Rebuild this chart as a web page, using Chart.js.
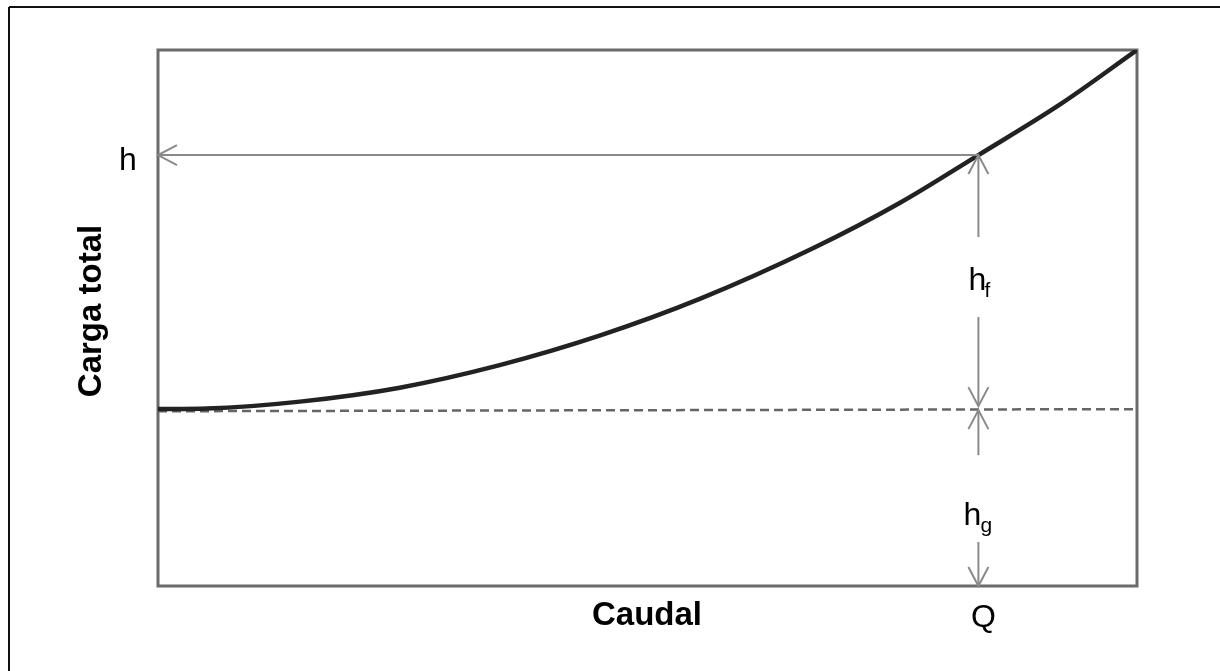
<!DOCTYPE html>
<html>
<head>
<meta charset="utf-8">
<title>Carga total vs Caudal</title>
<script src="https://cdn.jsdelivr.net/npm/chart.js@4.4.1/dist/chart.umd.min.js"></script>
<style>
    html, body { margin: 0; padding: 0; background: #fff; }
    #wrap { width: 1220px; height: 671px; }
</style>
</head>
<body>
<div id="wrap"><canvas id="pumpChart" width="1220" height="671"></canvas></div>
<script>
// System curve: flow (Q) against total head, both as % of the plotted range
const flowQ = [0, 5, 14.5, 24.7, 34.9, 45.1, 55.4, 66.9, 75.8, 83.8, 92.1, 100];
const totalHead = [33.0, 33.1, 34.4, 37.0, 41.2, 46.7, 53.6, 63.0, 71.5, 80.4, 89.8, 100];

// Static head line (h_g)
const staticQ = [0, 100];
const staticHead = [32.6, 33.0];

// Operating point and the gaps left in the vertical arrows for the labels
const operatingQ = 83.8;
const operatingHead = 80.4;
const hfLabelGap = [65.1, 50.2];
const hgLabelGap = [24.4, 8.2];

const axisTitleX = 'Caudal';
const axisTitleY = 'Carga total';

const FONT = '"Liberation Sans", Arial, Helvetica, sans-serif';
const ARROW = '#8a8a8a';

// Open "V" arrowhead at (x, y) pointing in direction (dx, dy)
function arrowHead(ctx, x, y, dx, dy) {
    const len = Math.hypot(dx, dy);
    const ux = dx / len, uy = dy / len;
    const back = 19, side = 10;
    ctx.beginPath();
    ctx.moveTo(x - ux * back - uy * side, y - uy * back + ux * side);
    ctx.lineTo(x, y);
    ctx.lineTo(x - ux * back + uy * side, y - uy * back - ux * side);
    ctx.stroke();
}

function line(ctx, x1, y1, x2, y2) {
    ctx.beginPath();
    ctx.moveTo(x1, y1);
    ctx.lineTo(x2, y2);
    ctx.stroke();
}

// Frame, outer box and titles drawn behind the data
const framePlugin = {
    id: 'frame',
    beforeDatasetsDraw(chart) {
        const { ctx, chartArea: a } = chart;
        ctx.save();
        ctx.strokeStyle = '#111';
        ctx.lineWidth = 2;
        line(ctx, 9, 7, chart.width, 7);
        line(ctx, 9, 7, 9, chart.height);

        ctx.strokeStyle = '#6b6b6b';
        ctx.lineWidth = 3;
        ctx.strokeRect(a.left, a.top, a.right - a.left, a.bottom - a.top);

        ctx.fillStyle = '#000';
        ctx.font = 'bold 33px ' + FONT;
        ctx.textAlign = 'center';
        ctx.textBaseline = 'alphabetic';
        ctx.fillText(axisTitleX, 647, 625);
        ctx.save();
        ctx.translate(101, 311);
        ctx.rotate(-Math.PI / 2);
        ctx.fillText(axisTitleY, 0, 0);
        ctx.restore();
        ctx.restore();
    }
};

// Dimension arrows and their labels drawn over the data
const arrowPlugin = {
    id: 'arrows',
    afterDatasetsDraw(chart) {
        const { ctx, scales: { x, y } } = chart;
        const px = x.getPixelForValue(operatingQ);
        const py = y.getPixelForValue(operatingHead);
        const yStatic = y.getPixelForValue(33.0);
        const yBase = y.getPixelForValue(0);
        const x0 = x.getPixelForValue(0);

        ctx.save();
        ctx.strokeStyle = ARROW;
        ctx.lineWidth = 2;

        // h: from the curve to the head axis
        line(ctx, px, py, x0, py);
        arrowHead(ctx, x0, py, -1, 0);

        // h_f: friction head between curve and static line
        const g1 = y.getPixelForValue(hfLabelGap[0]);
        const g2 = y.getPixelForValue(hfLabelGap[1]);
        line(ctx, px, py, px, g1);
        arrowHead(ctx, px, py, 0, -1);
        line(ctx, px, g2, px, yStatic - 3);
        arrowHead(ctx, px, yStatic - 3, 0, 1);

        // h_g: static head between static line and base
        const g3 = y.getPixelForValue(hgLabelGap[0]);
        const g4 = y.getPixelForValue(hgLabelGap[1]);
        line(ctx, px, yStatic + 1, px, g3);
        arrowHead(ctx, px, yStatic + 1, 0, -1);
        line(ctx, px, g4, px, yBase);
        arrowHead(ctx, px, yBase, 0, 1);

        // labels
        ctx.fillStyle = '#000';
        ctx.textBaseline = 'alphabetic';
        ctx.textAlign = 'left';
        ctx.font = '32px ' + FONT;
        ctx.fillText('h', 119, 170);
        ctx.fillText('h', px - 10, 290);
        ctx.fillText('h', px - 15, 525);
        ctx.font = '21px ' + FONT;
        ctx.fillText('f', px + 6, 297);
        ctx.fillText('g', px + 2, 532);
        ctx.font = '32px ' + FONT;
        ctx.textAlign = 'center';
        ctx.fillText('Q', px + 5, 627);
        ctx.restore();
    }
};

const ctx = document.getElementById('pumpChart').getContext('2d');
new Chart(ctx, {
    type: 'scatter',
    data: {
        datasets: [
            {
                label: 'h_g',
                data: staticQ.map((q, i) => ({ x: q, y: staticHead[i] })),
                showLine: true,
                borderColor: '#666',
                borderWidth: 2.5,
                borderDash: [9, 5],
                pointRadius: 0,
                order: 2
            },
            {
                label: 'Carga total',
                data: flowQ.map((q, i) => ({ x: q, y: totalHead[i] })),
                showLine: true,
                borderColor: '#222',
                borderWidth: 4.5,
                cubicInterpolationMode: 'monotone',
                pointRadius: 0,
                order: 1
            }
        ]
    },
    options: {
        responsive: false,
        devicePixelRatio: 1,
        animation: false,
        layout: { padding: { left: 158, top: 50, right: 83, bottom: 85 } },
        plugins: {
            legend: { display: false },
            tooltip: { enabled: false }
        },
        scales: {
            x: { type: 'linear', min: 0, max: 100, display: false },
            y: { type: 'linear', min: 0, max: 100, display: false }
        }
    },
    plugins: [framePlugin, arrowPlugin]
});
</script>
</body>
</html>
